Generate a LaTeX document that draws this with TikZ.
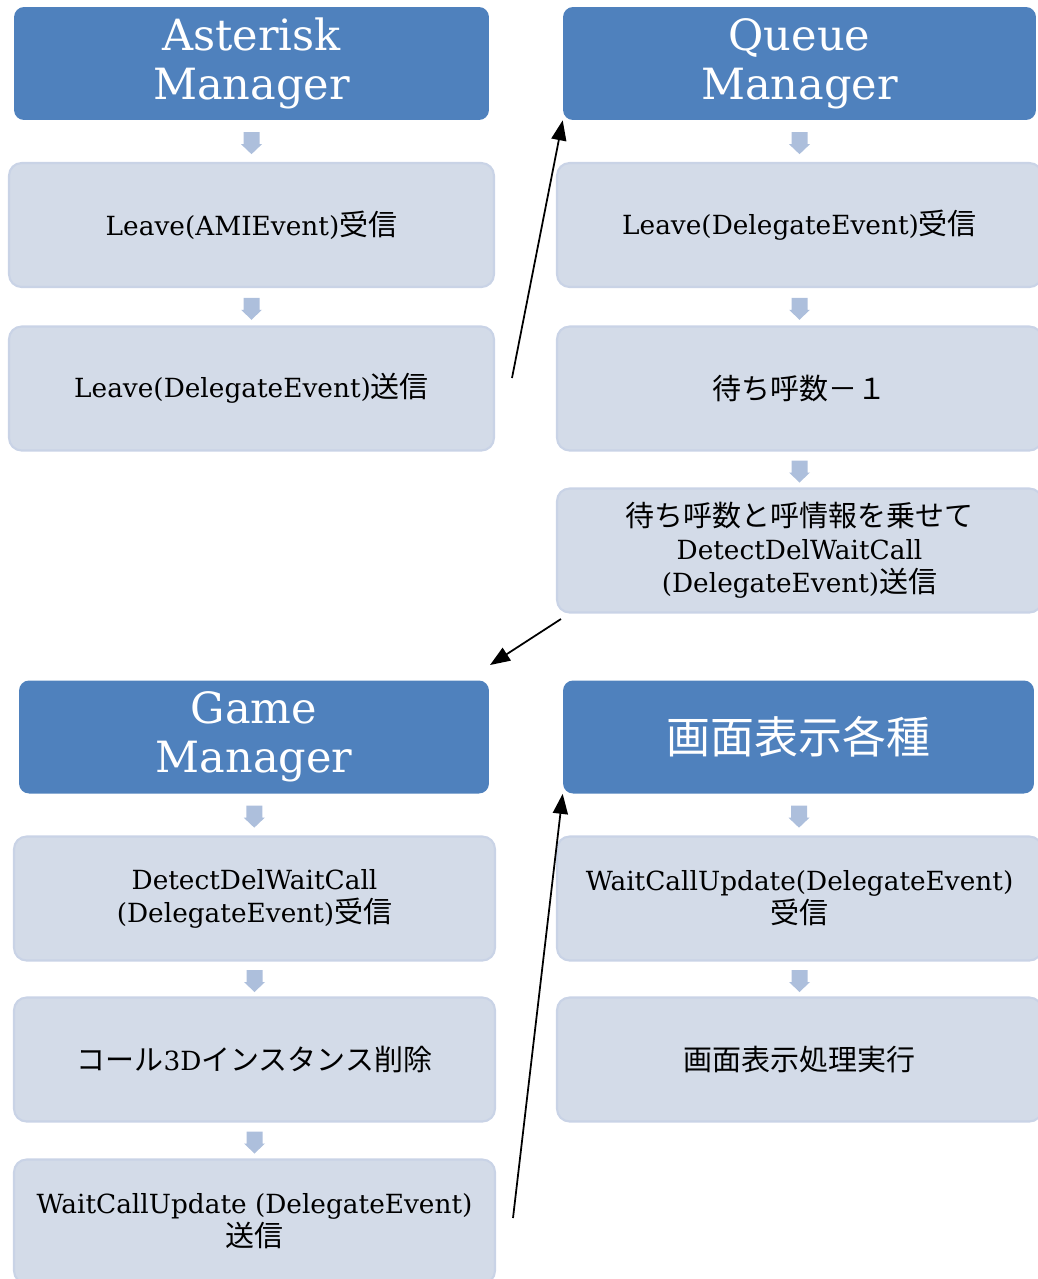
\documentclass[tikz,border=0pt]{standalone}
\usepackage{fontspec}
\setmainfont{DejaVu Serif}
\newfontfamily\jp{Noto Sans CJK JP}
\usetikzlibrary{arrows.meta,calc}
\definecolor{hdrblue}{HTML}{4F81BD}
\definecolor{boxfill}{HTML}{D3DBE8}
\definecolor{boxline}{HTML}{C9D3E6}
\definecolor{arrfill}{HTML}{ADBFDC}
\tikzset{darr/.pic={\fill[arrfill] (-8,-9) -- (8,-9) -- (8,3) -- (10.5,3) -- (0,13) -- (-10.5,3) -- (-8,3) -- cycle;}}

\begin{document}
\begin{tikzpicture}[x=0.02cm,y=-0.02cm,
  hdr/.style={fill=hdrblue, rounded corners=0.2cm, text=white, align=center, font=\fontsize{24.5}{28}\selectfont, minimum width=9.5cm, minimum height=2.26cm, inner sep=0pt},
  proc/.style={fill=boxfill, draw=boxline, line width=1.2pt, rounded corners=0.25cm, align=center, font=\fontsize{15}{18.7}\selectfont, minimum width=9.7cm, minimum height=2.48cm, inner sep=0pt},
  link/.style={-{Triangle[length=0.4cm,width=0.3cm]}, line width=1pt}]
\useasboundingbox (0,0) rectangle (1038,1279);
\clip (0,0) rectangle (1038,1279);

% Asterisk Manager
\node[hdr] (am) at (251.5,63.5) {Asterisk\\Manager};
\node[proc] (am1) at (251.5,225) {Leave(AMIEvent){\jp\fontsize{16.5}{18.7}\selectfont 受信}};
\node[proc] (am2) at (251.5,388.5) {Leave(DelegateEvent){\jp\fontsize{16.5}{18.7}\selectfont 送信}};

% Queue Manager
\node[hdr, minimum width=9.46cm] (qm) at (799.5,63.5) {Queue\\Manager};
\node[proc] (qm1) at (799.5,225) {Leave(DelegateEvent){\jp\fontsize{16.5}{18.7}\selectfont 受信}};
\node[proc, font=\jp\fontsize{16.5}{18.7}\selectfont] (qm2) at (799.5,388.5) {待ち呼数－１};
\node[proc] (qm3) at (799.5,550.5) {{\jp\fontsize{16.5}{18.7}\selectfont 待ち呼数と呼情報を乗せて}\\DetectDelWaitCall\\(DelegateEvent){\jp\fontsize{16.5}{18.7}\selectfont 送信}};

% Game Manager
\node[hdr, minimum width=9.4cm] (gm) at (254,737) {Game\\Manager};
\node[proc, minimum width=9.62cm] (gm1) at (254.5,898.5) {DetectDelWaitCall\\(DelegateEvent){\jp\fontsize{16.5}{18.7}\selectfont 受信}};
\node[proc, minimum width=9.62cm] (gm2) at (254.5,1059.5) {{\jp\fontsize{16.5}{18.7}\selectfont コール}3D{\jp\fontsize{16.5}{18.7}\selectfont インスタンス削除}};
\node[proc, minimum width=9.62cm] (gm3) at (254.5,1221.5) {WaitCallUpdate (DelegateEvent)\\{\jp\fontsize{16.5}{18.7}\selectfont 送信}};

% display
\node[hdr, minimum width=9.42cm, font=\jp\fontsize{25}{28}\selectfont] (dp) at (798.5,737) {画面表示各種};
\node[proc] (dp1) at (799.5,898.5) {WaitCallUpdate(DelegateEvent)\\{\jp\fontsize{16.5}{18.7}\selectfont 受信}};
\node[proc, font=\jp\fontsize{16.5}{18.7}\selectfont] (dp2) at (799.5,1059.5) {画面表示処理実行};

\foreach \a/\b in {am/am1, am1/am2, qm/qm1, qm1/qm2, qm2/qm3, gm/gm1, gm1/gm2, gm2/gm3, dp/dp1, dp1/dp2}
  \path ($(\a.south)!0.5!(\b.north)$) pic{darr};

\coordinate (c1) at (512,378);
\coordinate (c2s) at (561,619);
\coordinate (c2e) at (490,665);
\coordinate (c3) at (513,1218);
\draw[link] (c1) -- (qm.south west);
\draw[link] (c2s) -- (c2e);
\draw[link] (c3) -- (dp.south west);
\end{tikzpicture}
\end{document}
